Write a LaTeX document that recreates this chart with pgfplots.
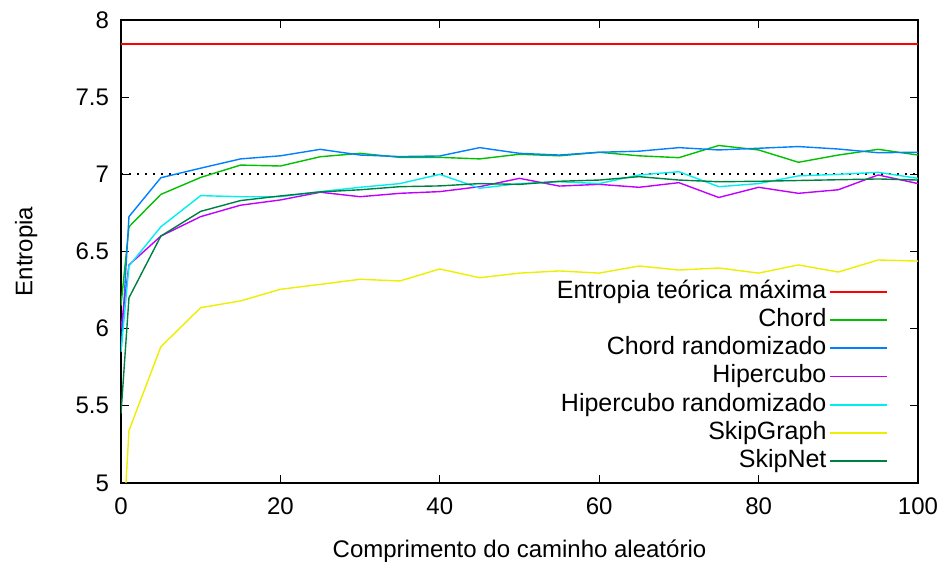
\documentclass[border=0pt]{standalone}
\usepackage{pgfplots}
\usepackage{pgfplotstable}
\pgfplotsset{compat=1.18}
\usepackage{fontspec}
\setmainfont{Liberation Sans}

\definecolor{cmax}{HTML}{FF0000}
\definecolor{cchord}{HTML}{00C000}
\definecolor{cchordr}{HTML}{0080FF}
\definecolor{chiper}{HTML}{C000FF}
\definecolor{chiperr}{HTML}{00EEEE}
\definecolor{cskipg}{HTML}{EEEE00}
\definecolor{cskipn}{HTML}{008040}

% entropia por comprimento do caminho
\pgfplotstableread{
x   maxe   chord  chordr hiper  hiperr skipg  skipn
0   7.845  6.15   5.85   6.00   5.85   4.43   5.45
1   7.845  6.66   6.726  6.413  6.406  5.34   6.20
5   7.845  6.87   6.978  6.60   6.66   5.883  6.60
10  7.845  6.98   7.04   6.726  6.862  6.136  6.76
15  7.845  7.06   7.10   6.80   6.855  6.18   6.83
20  7.845  7.054  7.12   6.834  6.855  6.255  6.86
25  7.845  7.114  7.162  6.884  6.888  6.287  6.886
30  7.845  7.136  7.125  6.855  6.916  6.32   6.90
35  7.845  7.11   7.115  6.877  6.94   6.309  6.92
40  7.845  7.11   7.119  6.888  7.00   6.387  6.925
45  7.845  7.10   7.173  6.92   6.91   6.33   6.94
50  7.845  7.13   7.136  6.974  6.94   6.36   6.935
55  7.845  7.12   7.125  6.924  6.952  6.374  6.955
60  7.845  7.143  7.143  6.935  6.94   6.36   6.963
65  7.845  7.12   7.15   6.916  6.996  6.406  6.985
70  7.845  7.108  7.173  6.946  7.017  6.38   6.963
75  7.845  7.187  7.158  6.85   6.92   6.393  6.952
80  7.845  7.158  7.169  6.916  6.94   6.36   6.955
85  7.845  7.078  7.18   6.877  6.99   6.413  6.96
90  7.845  7.125  7.164  6.90   7.00   6.367  6.965
95  7.845  7.162  7.14   6.996  7.013  6.445  6.97
100 7.845  7.125  7.143  6.94   6.974  6.438  6.963
}\entropia

\begin{document}
\begin{tikzpicture}
\path[use as bounding box] (-60.5bp,-43bp) rectangle (411.5bp,241.5bp);
\begin{axis}[
  at={(0,0)}, anchor=south west,
  scale only axis,
  width=398.5bp, height=231.5bp,
  xmin=0, xmax=100, ymin=5, ymax=8,
  xtick={0,20,40,60,80,100},
  ytick={5,5.5,6,6.5,7,7.5,8},
  tick align=inside,
  xtick pos=both, ytick pos=both,
  major tick length=4bp,
  tick style={black, line width=0.6bp},
  axis line style={black, line width=1bp},
  font=\fontsize{12bp}{14bp}\selectfont,
  /pgf/number format/assume math mode=true,
  yticklabel style={xshift=-2.5bp},
  xticklabel style={yshift=-4bp},
  xlabel={Comprimento do caminho aleatório},
  ylabel={Entropia},
  label style={font=\fontsize{12.5bp}{14bp}\selectfont},
  every axis x label/.style={at={(axis description cs:0.5,-0.147)}, anchor=center},
  every axis y label/.style={at={(axis description cs:-0.119,0.5)}, rotate=90, anchor=center},
  clip=true,
  legend plot pos=right,
  legend cell align=right,
  legend image code/.code={\draw[#1, line width=0.9bp] (0bp,0bp) -- (28.5bp,0bp);},
  legend style={draw=none, fill=none,
    at={(axis description cs:1,0)}, anchor=south east,
    xshift=-12bp, yshift=1.75bp,
    row sep=0.1bp,
    nodes={inner sep=1.2bp, text height=9bp, text depth=2.6bp},
    font=\fontsize{12.5bp}{14bp}\selectfont},
  every axis plot/.append style={line width=0.7bp},
]
\addplot[black, line width=1bp, dash pattern=on 1bp off 3bp, forget plot]
  coordinates {(0,7) (100,7)};
\addplot[cmax]    table[x=x, y=maxe]   {\entropia};
\addplot[cchord]  table[x=x, y=chord]  {\entropia};
\addplot[cchordr] table[x=x, y=chordr] {\entropia};
\addplot[chiper]  table[x=x, y=hiper]  {\entropia};
\addplot[chiperr] table[x=x, y=hiperr] {\entropia};
\addplot[cskipg]  table[x=x, y=skipg]  {\entropia};
\addplot[cskipn]  table[x=x, y=skipn]  {\entropia};
\legend{Entropia teórica máxima, Chord, Chord randomizado, Hipercubo,
  Hipercubo randomizado, SkipGraph, SkipNet}
\end{axis}
\end{tikzpicture}
\end{document}
